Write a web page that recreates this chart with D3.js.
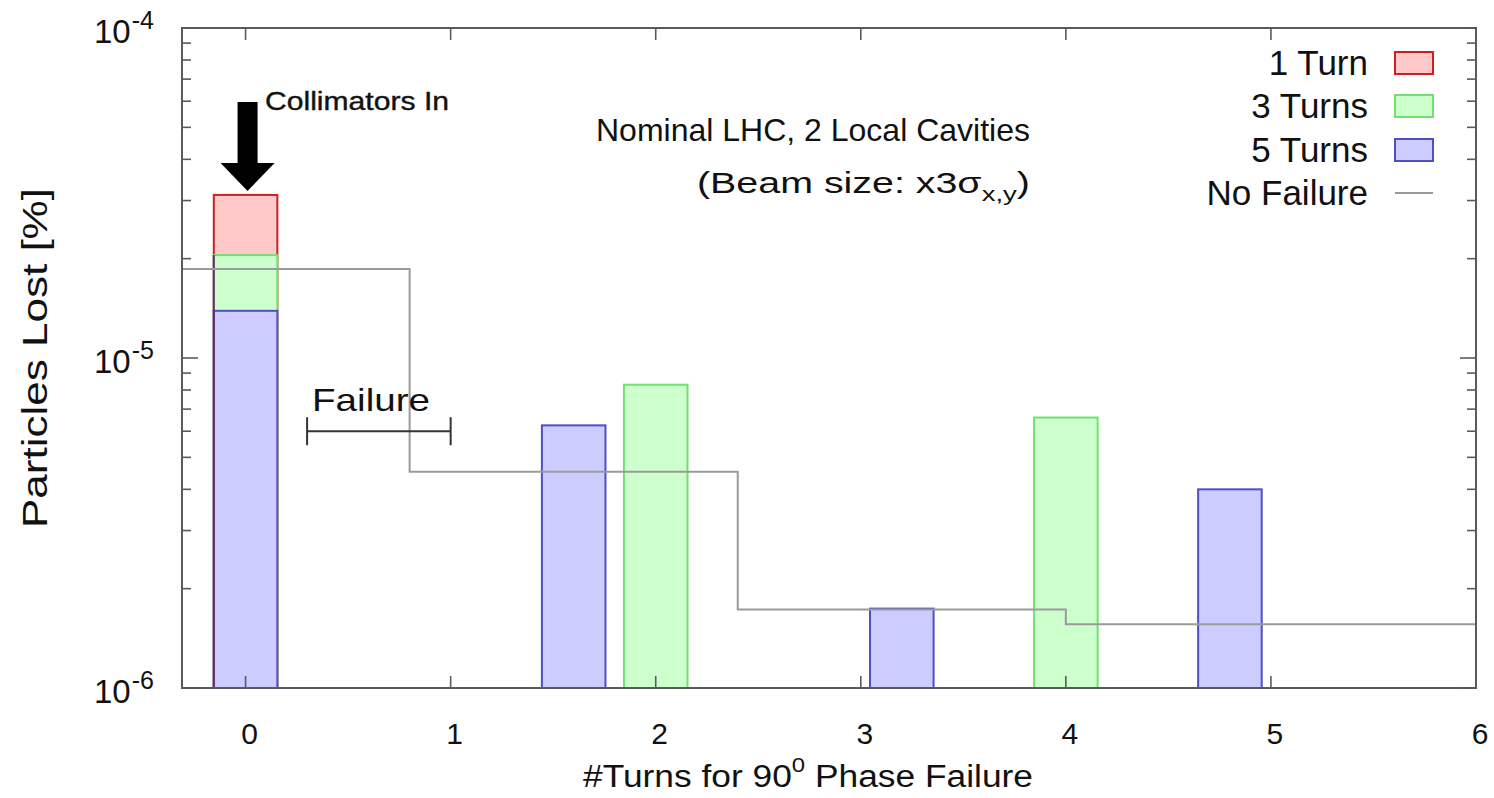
<!DOCTYPE html>
<html><head><meta charset="utf-8">
<script src="https://cdn.jsdelivr.net/npm/d3@7"></script>
<style>
body{margin:0;background:#fff}
text{font-family:"Liberation Sans",Arial,Helvetica,sans-serif;fill:#111}
</style></head>
<body><svg id="c" width="1494" height="798"></svg>
<script>
// ---- data ----
const xTicks = [0, 1, 2, 3, 4, 5, 6];
const yMajor = [1e-6, 1e-5, 1e-4];
const yExp = ["-6", "-5", "-4"];
const turns1X = [0],            turns1Y = [3.12e-5];
const turns3X = [0, 2, 4],      turns3Y = [2.05e-5, 8.3e-6, 6.6e-6];
const turns5X = [0, 1.6, 3.2, 4.8], turns5Y = [1.39e-5, 6.25e-6, 1.74e-6, 4.0e-6];
const noFailX = [-0.31, 0.8, 2.4, 4.0, 6.0];
const noFailY = [1.86e-5, 4.52e-6, 1.73e-6, 1.56e-6];
const legendLabels = ["1 Turn", "3 Turns", "5 Turns", "No Failure"];
const barWidth = 0.31;

// ---- layout ----
const L = 182, R = 1476, T = 28, B = 688;
const svg = d3.select("#c");
const x = d3.scaleLinear().domain([-0.31, 6]).range([L, R]);
const y = d3.scaleLog().domain([1e-6, 1e-4]).range([B, T]);

const series = [
  {xs: turns1X, ys: turns1Y, fill: "#ffc9c9", stroke: "#cc2020"},
  {xs: turns3X, ys: turns3Y, fill: "#ccffcc", stroke: "#70e070"},
  {xs: turns5X, ys: turns5Y, fill: "#ccccff", stroke: "#4f4fc6"}
];

// bars
series.forEach(s => {
  const d = s.xs.map((v, i) => ({x: v, y: s.ys[i]}));
  svg.append("g").selectAll("rect").data(d).join("rect")
    .attr("x", e => x(e.x - barWidth / 2))
    .attr("width", e => x(e.x + barWidth / 2) - x(e.x - barWidth / 2))
    .attr("y", e => y(e.y))
    .attr("height", e => y(1e-6) - y(e.y))
    .attr("fill", s.fill).attr("stroke", s.stroke).attr("stroke-width", 2);
});
// dark left edge where the stacked bars overlap at 0
svg.append("line")
  .attr("x1", x(turns1X[0] - barWidth / 2)).attr("x2", x(turns1X[0] - barWidth / 2))
  .attr("y1", y(turns3Y[0])).attr("y2", y(1e-6))
  .attr("stroke", "#6a2a6a").attr("stroke-width", 2);

// no-failure step line
const stepPts = noFailY.map((v, i) => [noFailX[i], v]);
stepPts.push([noFailX[noFailX.length - 1], noFailY[noFailY.length - 1]]);
svg.append("path")
  .attr("d", d3.line().x(d => x(d[0])).y(d => y(d[1])).curve(d3.curveStepAfter)(stepPts))
  .attr("fill", "none").attr("stroke", "#9a9a9a").attr("stroke-width", 2);

// frame
svg.append("rect").attr("x", L).attr("y", T).attr("width", R - L).attr("height", B - T)
  .attr("fill", "none").attr("stroke", "#5a5a5a").attr("stroke-width", 2);

// y ticks (major + minor), both sides, inward
const yMinor = [];
[1e-6, 1e-5].forEach(dec => { for (let k = 2; k <= 9; k++) yMinor.push(dec * k); });
const tickG = svg.append("g").attr("stroke", "#5a5a5a").attr("stroke-width", 1.6);
yMajor.forEach(v => {
  tickG.append("line").attr("x1", L).attr("x2", L + 16).attr("y1", y(v)).attr("y2", y(v));
  tickG.append("line").attr("x1", R).attr("x2", R - 16).attr("y1", y(v)).attr("y2", y(v));
});
yMinor.forEach(v => {
  tickG.append("line").attr("x1", L).attr("x2", L + 9).attr("y1", y(v)).attr("y2", y(v));
  tickG.append("line").attr("x1", R).attr("x2", R - 9).attr("y1", y(v)).attr("y2", y(v));
});
// x ticks, bottom & top, inward
xTicks.forEach(v => {
  tickG.append("line").attr("x1", x(v)).attr("x2", x(v)).attr("y1", B).attr("y2", B - 12);
  tickG.append("line").attr("x1", x(v)).attr("x2", x(v)).attr("y1", T).attr("y2", T + 12);
});

// x tick labels
svg.append("g").selectAll("text").data(xTicks).join("text")
  .attr("x", d => x(d) + 4).attr("y", 744).attr("text-anchor", "middle")
  .attr("font-size", 30).text(d => d);

// y tick labels 10^n
yMajor.forEach((v, i) => {
  const t = svg.append("text").attr("x", 94).attr("y", y(v) + 15)
    .attr("font-size", 33);
  t.append("tspan").text("10");
  t.append("tspan").attr("font-size", 25).attr("dy", -14).attr("dx", 1).text(yExp[i]);
});

// axis titles
const xt = svg.append("text").attr("x", 583).attr("y", 787)
  .attr("font-size", 31).attr("textLength", 450).attr("lengthAdjust", "spacingAndGlyphs");
xt.append("tspan").text("#Turns for 90");
xt.append("tspan").attr("font-size", 21).attr("dy", -15).text("0");
xt.append("tspan").attr("dy", 15).text(" Phase Failure");

svg.append("text").attr("transform", "translate(47,528) rotate(-90)")
  .attr("font-size", 35).attr("textLength", 340).attr("lengthAdjust", "spacingAndGlyphs")
  .text("Particles Lost [%]");

// annotation texts
svg.append("text").attr("x", 596).attr("y", 141)
  .attr("font-size", 32).attr("textLength", 434).attr("lengthAdjust", "spacingAndGlyphs")
  .text("Nominal LHC, 2 Local Cavities");
const bs = svg.append("text").attr("x", 697).attr("y", 193)
  .attr("font-size", 30).attr("textLength", 333).attr("lengthAdjust", "spacingAndGlyphs");
bs.append("tspan").text("(Beam size: x3\u03C3");
bs.append("tspan").attr("font-size", 21).attr("dy", 8).text("x,y");
bs.append("tspan").attr("dy", -8).text(")");

svg.append("text").attr("x", 265).attr("y", 110).attr("font-size", 25)
  .attr("textLength", 184).attr("lengthAdjust", "spacingAndGlyphs")
  .attr("fill", "#1a1a1a").attr("stroke", "#1a1a1a").attr("stroke-width", 0.4)
  .text("Collimators In");

// arrow
const ax = x(0) + 2;
svg.append("rect").attr("x", ax - 10).attr("y", 102).attr("width", 20).attr("height", 64).attr("fill", "#000");
svg.append("path").attr("d", `M${ax - 27},163 L${ax + 27},163 L${ax},191 Z`).attr("fill", "#000");

// failure bracket
const fy = y(6.0e-6);
const fb = svg.append("g").attr("stroke", "#333").attr("stroke-width", 2);
fb.append("line").attr("x1", x(0.3)).attr("x2", x(1.0)).attr("y1", fy).attr("y2", fy);
fb.append("line").attr("x1", x(0.3)).attr("x2", x(0.3)).attr("y1", fy - 14).attr("y2", fy + 14);
fb.append("line").attr("x1", x(1.0)).attr("x2", x(1.0)).attr("y1", fy - 14).attr("y2", fy + 14);
svg.append("text").attr("x", 312).attr("y", 411).attr("font-size", 32)
  .attr("textLength", 118).attr("lengthAdjust", "spacingAndGlyphs").text("Failure");

// legend
const legY = [63, 106, 150, 193];
legendLabels.forEach((lab, i) => {
  svg.append("text").attr("x", 1368).attr("y", legY[i] + 12).attr("text-anchor", "end")
    .attr("font-size", 35).text(lab);
  if (i < 3) {
    svg.append("rect").attr("x", 1395).attr("y", legY[i] - 11).attr("width", 38).attr("height", 22)
      .attr("fill", series[i].fill).attr("stroke", series[i].stroke).attr("stroke-width", 2);
  } else {
    svg.append("line").attr("x1", 1395).attr("x2", 1433).attr("y1", legY[i]).attr("y2", legY[i])
      .attr("stroke", "#9a9a9a").attr("stroke-width", 2);
  }
});
</script></body></html>
